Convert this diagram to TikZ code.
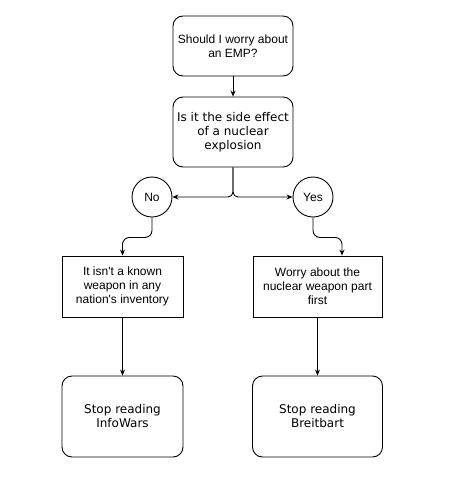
\documentclass[tikz,border=0pt]{standalone}
\usepackage{fontspec}
\setmainfont{Liberation Sans}
\newfontfamily\dejavu{DejaVu Sans}
\usetikzlibrary{arrows.meta}
\begin{document}
\begin{tikzpicture}[x=1pt,y=-1pt,
  every node/.style={inner sep=0pt,align=center,font=\fontsize{12}{14}\selectfont},
  rbox/.style={draw,rounded corners=10pt,line width=0.9pt},
  sbox/.style={draw,line width=0.9pt},
  dv/.style={font=\fontsize{12}{14}\selectfont\dejavu},
  circ/.style={draw,circle,minimum size=40pt,line width=0.9pt},
  conn/.style={line width=0.9pt,-{Stealth[length=6pt,width=5pt]}}]
\useasboundingbox (0,0) rectangle (451,490);
\fill[white] (0,0) rectangle (451,490);
\node[rbox,minimum width=120pt,minimum height=60pt] (b1) at (233,46) {Should I worry about\\an EMP?};
\node[rbox,dv,minimum width=120pt,minimum height=70pt] (b2) at (233,132) {Is it the side effect\\of a nuclear\\explosion};
\node[circ] (no) at (152,197) {No};
\node[circ] (yes) at (313,197) {Yes};
\node[sbox,minimum width=121pt,minimum height=61pt] (b3) at (122.5,286.5) {It isn\textquotesingle t a known\\weapon in any\\nation\textquotesingle s inventory};
\node[sbox,minimum width=129pt,minimum height=61pt] (b4) at (317.5,286.5) {Worry about the\\nuclear weapon part\\first};
\node[rbox,dv,minimum width=121pt,minimum height=81pt] (b5) at (122.5,416.5) {Stop reading\\InfoWars};
\node[rbox,dv,minimum width=130pt,minimum height=81pt] (b6) at (317.5,416.5) {Stop reading\\Breitbart};
\draw[conn] (b1) -- (b2);
\draw[conn,rounded corners=5pt] (b2.south) |- (no.east);
\draw[conn,rounded corners=5pt] (b2.south) |- (yes.west);
\draw[conn,rounded corners=7pt] (no.south) -- ++(0,20) -| (b3.north);
\draw[conn,rounded corners=7pt] (yes.south) -- ++(0,20) -| ([xshift=24.5pt]b4.north);
\draw[conn] (b3) -- (b5);
\draw[conn] (b4) -- (b6);
\end{tikzpicture}
\end{document}
